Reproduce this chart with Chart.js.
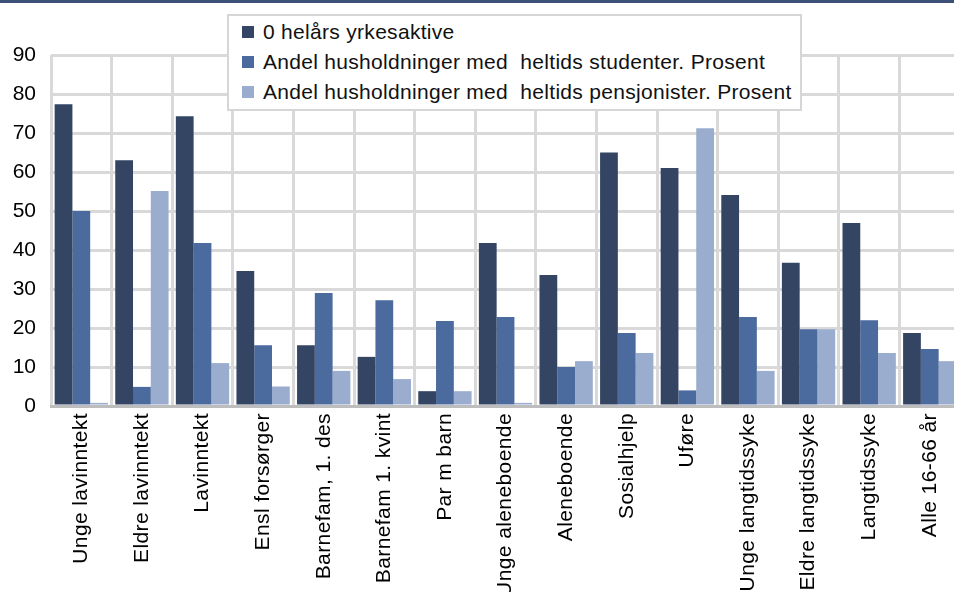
<!DOCTYPE html>
<html>
<head>
<meta charset="utf-8">
<script src="https://cdn.jsdelivr.net/npm/chart.js@4.4.1/dist/chart.umd.min.js"></script>
<style>
  html, body { margin: 0; padding: 0; background: #fff; overflow: hidden; }
  #wrap { position: relative; width: 962px; height: 592px; }
  #topband { position: absolute; left: 0; top: 0; width: 100%; height: 3px; background: #3d5078; z-index: 3; }
  #legend { position: absolute; left: 227px; top: 14px; width: 571px; height: 93px;
            background: #fff; border: 2px solid #d6d6d6; z-index: 2;
            font-family: "Liberation Sans", Arial, sans-serif; font-size: 21px; color: #111;
            letter-spacing: 0.3px; }
  .row { position: absolute; left: 0; height: 30px; line-height: 30px; white-space: pre; }
  .sw { position: absolute; left: 13px; top: 9px; width: 12px; height: 12px; }
  .tx { position: absolute; left: 34px; top: 0; }
</style>
</head>
<body>
<div id="wrap">
  <div id="topband"></div>
  <canvas id="c"></canvas>
  <div id="legend"></div>
</div>
<script>
const categories = ['Unge lavinntekt','Eldre lavinntekt','Lavinntekt','Ensl forsørger','Barnefam, 1. des','Barnefam 1. kvint','Par m barn','Unge aleneboende','Aleneboende','Sosialhjelp','Uføre','Unge langtidssyke','Eldre langtidssyke','Langtidssyke','Alle 16-66 år'];
const seriesNames = ['0 helårs yrkesaktive', 'Andel husholdninger med  heltids studenter. Prosent', 'Andel husholdninger med  heltids pensjonister. Prosent'];
const yrkesaktive  = [77.4, 63, 74.3, 34.6, 15.6, 12.6, 3.8, 41.8, 33.6, 65, 61, 54.1, 36.7, 46.9, 18.7];
const studenter    = [50, 4.9, 41.8, 15.6, 29, 27.1, 21.8, 22.8, 10, 18.7, 4, 22.8, 19.7, 22, 14.6];
const pensjonister = [0.8, 55.1, 11, 5, 9, 6.9, 3.8, 0.8, 11.5, 13.6, 71.2, 9, 19.7, 13.6, 11.5];
const yTicks = [0, 10, 20, 30, 40, 50, 60, 70, 80, 90];

const colors = ['#344564', '#4b6a9d', '#9aadce'];
const seriesData = [yrkesaktive, studenter, pensjonister];

const FONT = '"Liberation Sans", Arial, sans-serif';

const datasets = seriesNames.map((name, i) => ({
  label: name,
  data: seriesData[i],
  backgroundColor: colors[i],
  borderWidth: 0,
  barPercentage: 1.0,
  categoryPercentage: 0.88
}));

// HTML legend
const leg = document.getElementById('legend');
seriesNames.forEach((name, i) => {
  const r = document.createElement('div');
  r.className = 'row';
  r.style.top = (1 + i * 30) + 'px';
  r.style.width = '100%';
  const s = document.createElement('span'); s.className = 'sw'; s.style.background = colors[i];
  const t = document.createElement('span'); t.className = 'tx'; t.textContent = name;
  r.appendChild(s); r.appendChild(t);
  leg.appendChild(r);
});

const spacing = {
  id: 'spacing',
  beforeDraw(chart) { chart.ctx.letterSpacing = '0px'; },
  beforeDatasetsDraw(chart) { chart.ctx.letterSpacing = '0px'; }
};

new Chart(document.getElementById('c'), {
  type: 'bar',
  data: { labels: categories, datasets },
  plugins: [spacing, {
    id: 'xSpacing',
    afterDraw() {}
  }],
  options: {
    responsive: true,
    maintainAspectRatio: false,
    animation: false,
    layout: { padding: { top: 55, right: 1, left: 0, bottom: 0 } },
    plugins: { legend: { display: false }, tooltip: { enabled: false } },
    scales: {
      x: {
        grid: { color: '#d9d9d9', lineWidth: 3, drawTicks: false, offset: true },
        border: { display: true, color: '#bdbdbd', width: 3 },
        ticks: {
          autoSkip: false, maxRotation: 90, minRotation: 90, padding: 7,
          color: '#000', font: { family: FONT, size: 21 }
        },
        afterFit: (s) => { s.height = 186; },
        beforeUpdate: (s) => {}
      },
      y: {
        min: 0, max: 90,
        afterBuildTicks: (s) => { s.ticks = yTicks.map(v => ({ value: v })); },
        grid: { color: '#d9d9d9', lineWidth: 3, drawTicks: false },
        border: { display: false },
        ticks: { padding: 15, color: '#000', font: { family: FONT, size: 21 } },
        afterFit: (s) => { s.width = 51; }
      }
    }
  }
});

// Slight letter spacing for the rotated category labels, as in the reference
const origDraw = Chart.registry.getScale('category').prototype.drawLabels;
Chart.registry.getScale('category').prototype.drawLabels = function (area) {
  const ctx = this.ctx;
  const prev = ctx.letterSpacing;
  ctx.letterSpacing = '0.4px';
  origDraw.call(this, area);
  ctx.letterSpacing = prev || '0px';
};
Object.values(Chart.instances).forEach(c => c.draw());
</script>
</body>
</html>
